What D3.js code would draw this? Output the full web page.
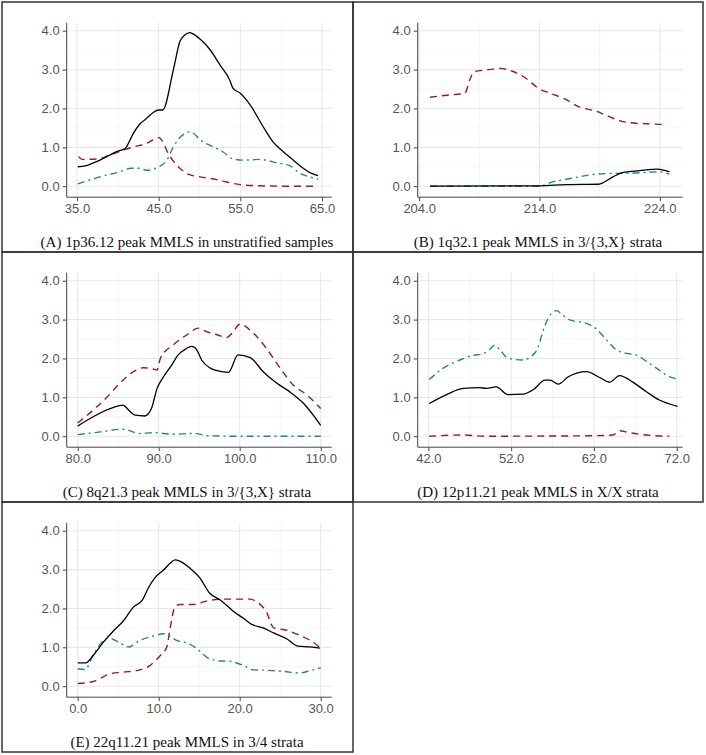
<!DOCTYPE html>
<html><head><meta charset="utf-8">
<script src="https://cdn.jsdelivr.net/npm/d3@7"></script>
<style>body{margin:0;background:#fff}svg{display:block}</style>
</head><body>
<script>
// ---------- data ----------
const yTicks = [0, 1, 2, 3, 4];
const yMinor = [0.5, 1.5, 2.5, 3.5];

const captions = [
  "(A) 1p36.12 peak MMLS in unstratified samples",
  "(B) 1q32.1 peak MMLS in 3/{3,X} strata",
  "(C) 8q21.3 peak MMLS in 3/{3,X} strata",
  "(D) 12p11.21 peak MMLS in X/X strata",
  "(E) 22q11.21 peak MMLS in 3/4 strata"
];

const xTicksA = [35, 45, 55, 65], xMinorA = [40, 50, 60], xDomA = [33.74, 66.19];
const xTicksB = [204, 214, 224], xMinorB = [209, 219], xDomB = [203.88, 225.9];
const xTicksC = [80, 90, 100, 110], xMinorC = [85, 95, 105], xDomC = [78.64, 111.36];
const xTicksD = [42, 52, 62, 72], xMinorD = [47, 57, 67], xDomD = [40.71, 72.72];
const xTicksE = [0, 10, 20, 30], xMinorE = [5, 15, 25], xDomE = [-1.36, 31.36];

// Panel A
const aSolid = [[35.1,0.50],[36.0,0.52],[37.8,0.67],[40.0,0.90],[40.9,0.97],[41.9,1.36],[42.7,1.60],[43.5,1.74],[44.3,1.89],[45.0,1.96],[45.5,1.96],[46.8,2.99],[47.6,3.72],[48.2,3.89],[48.8,3.95],[49.2,3.92],[50.1,3.78],[51.3,3.51],[52.5,3.12],[53.7,2.73],[54.1,2.52],[55.0,2.39],[56.2,2.09],[57.8,1.53],[59.0,1.14],[60.3,0.88],[61.5,0.67],[62.7,0.46],[63.7,0.33],[64.5,0.27]];
const aDashed = [[35.2,0.76],[35.6,0.69],[37.5,0.70],[39.0,0.80],[40.7,0.93],[41.9,1.01],[43.5,1.10],[45.0,1.25],[46.4,0.76],[47.6,0.46],[48.6,0.31],[50.1,0.24],[52.1,0.17],[53.7,0.09],[55.0,0.04],[57.4,0.01],[60.3,0.0],[64.5,0.0]];
const aDotdash = [[35.1,0.06],[37.8,0.24],[39.9,0.35],[41.7,0.46],[42.7,0.46],[43.5,0.41],[45.2,0.52],[46.0,0.67],[46.8,1.01],[47.8,1.29],[48.8,1.40],[49.2,1.37],[50.1,1.19],[51.7,1.01],[52.9,0.88],[54.1,0.70],[55.4,0.67],[57.4,0.69],[59.5,0.60],[61.1,0.52],[62.3,0.33],[63.5,0.24],[64.5,0.18]];

// Panel B
const bSolid = [[204.9,0.0],[214.0,0.01],[216.2,0.04],[218.9,0.05],[220.1,0.24],[220.9,0.35],[222.3,0.40],[223.8,0.44],[224.8,0.37]];
const bDashed = [[204.9,2.29],[206.6,2.35],[207.8,2.39],[208.2,2.73],[208.6,2.95],[209.6,2.99],[210.7,3.03],[211.8,2.95],[212.9,2.77],[213.9,2.52],[214.9,2.39],[216.0,2.26],[217.3,2.04],[218.7,1.93],[219.8,1.79],[220.7,1.68],[222.0,1.62],[223.4,1.60],[224.1,1.59],[224.5,1.63]];
const bDotdash = [[204.9,0.0],[214.0,0.0],[215.1,0.11],[216.8,0.21],[218.7,0.31],[220.4,0.33],[222.0,0.34],[224.0,0.37],[224.8,0.31]];

// Panel C
const cSolid = [[80.0,0.26],[81.9,0.50],[84.0,0.71],[85.6,0.80],[86.3,0.67],[87.1,0.54],[88.3,0.52],[89.1,0.71],[89.8,1.23],[90.6,1.53],[91.6,1.83],[92.4,2.09],[93.3,2.24],[94.1,2.31],[94.7,2.22],[95.3,1.96],[96.3,1.76],[97.8,1.66],[98.6,1.64],[99.8,2.09],[101.3,2.02],[102.9,1.66],[104.6,1.36],[106.2,1.14],[107.9,0.84],[110.0,0.28]];
const cDashed = [[80.0,0.34],[81.9,0.67],[83.6,1.00],[85.2,1.36],[86.9,1.66],[88.1,1.76],[89.3,1.73],[89.8,1.70],[90.2,2.00],[91.8,2.35],[93.5,2.61],[94.9,2.78],[95.9,2.69],[97.2,2.61],[98.4,2.54],[99.2,2.69],[100.0,2.88],[101.7,2.65],[103.3,2.26],[105.0,1.75],[106.6,1.32],[108.3,1.06],[110.0,0.71]];
const cDotdash = [[80.0,0.04],[82.8,0.11],[85.6,0.18],[87.7,0.07],[89.3,0.09],[91.8,0.05],[94.3,0.07],[96.3,0.01],[99.2,0.0],[110.0,0.0]];

// Panel D
const dSolid = [[42.1,0.84],[44.2,1.07],[46.2,1.23],[48.2,1.25],[49.0,1.23],[50.2,1.27],[51.6,1.07],[53.4,1.08],[54.7,1.20],[56.1,1.44],[56.7,1.44],[57.7,1.34],[58.9,1.53],[61.1,1.66],[62.7,1.51],[63.9,1.39],[65.1,1.56],[66.7,1.39],[68.3,1.15],[69.9,0.93],[72.1,0.77]];
const dDashed = [[42.1,0.0],[46.2,0.03],[48.9,0.0],[61.1,0.01],[64.3,0.03],[65.1,0.14],[66.3,0.09],[67.9,0.04],[71.1,0.0]];
const dDotdash = [[42.1,1.46],[43.8,1.75],[45.8,1.96],[47.4,2.08],[48.6,2.12],[49.4,2.23],[50.0,2.34],[50.6,2.23],[51.6,2.01],[53.4,1.96],[55.0,2.18],[56.1,2.86],[56.7,3.12],[57.5,3.23],[58.1,3.14],[59.1,2.99],[61.1,2.90],[62.3,2.76],[63.5,2.48],[64.7,2.22],[65.9,2.13],[67.1,2.09],[68.3,1.93],[69.9,1.70],[71.1,1.53],[72.1,1.47]];

// Panel E
const eSolid = [[0.0,0.60],[1.0,0.60],[1.9,0.79],[3.2,1.14],[4.4,1.42],[5.6,1.67],[6.9,2.04],[8.0,2.22],[8.7,2.52],[9.5,2.78],[10.6,2.99],[11.4,3.16],[12.0,3.25],[12.6,3.22],[13.9,3.03],[15.1,2.78],[16.3,2.39],[17.6,2.22],[19.2,1.93],[20.5,1.74],[21.5,1.59],[22.9,1.50],[24.2,1.37],[25.8,1.22],[27.2,1.03],[28.7,1.01],[29.9,0.98]];
const eDashed = [[0.0,0.07],[1.9,0.12],[4.0,0.32],[5.6,0.36],[7.7,0.42],[8.9,0.53],[10.2,0.79],[11.0,1.01],[11.4,1.48],[12.0,2.04],[12.6,2.10],[14.3,2.10],[15.9,2.19],[18.0,2.24],[19.6,2.24],[21.3,2.24],[22.1,2.17],[23.3,1.91],[24.2,1.50],[25.8,1.44],[27.4,1.31],[28.7,1.18],[30.0,0.98]];
const eDotdash = [[0.0,0.45],[0.9,0.43],[1.9,0.79],[2.8,1.09],[3.8,1.24],[5.0,1.14],[6.3,1.01],[7.7,1.18],[9.3,1.29],[10.6,1.35],[11.4,1.28],[12.2,1.18],[13.5,1.11],[14.7,0.97],[15.9,0.75],[17.2,0.66],[18.8,0.64],[20.5,0.53],[21.7,0.42],[23.3,0.41],[25.4,0.38],[27.4,0.34],[28.9,0.41],[30.0,0.47]];

// ---------- drawing ----------
const W = 706, H = 755;
const svg = d3.select("body").append("svg").attr("width", W).attr("height", H);

const panels = [
  {bx: 2,   by: 2,   xd: xDomA, xt: xTicksA, xm: xMinorA, s: aSolid, d: aDashed, dd: aDotdash, cap: captions[0]},
  {bx: 353, by: 2,   xd: xDomB, xt: xTicksB, xm: xMinorB, s: bSolid, d: bDashed, dd: bDotdash, cap: captions[1]},
  {bx: 2,   by: 252, xd: xDomC, xt: xTicksC, xm: xMinorC, s: cSolid, d: cDashed, dd: cDotdash, cap: captions[2]},
  {bx: 353, by: 252, xd: xDomD, xt: xTicksD, xm: xMinorD, s: dSolid, d: dDashed, dd: dDotdash, cap: captions[3]},
  {bx: 2,   by: 502, xd: xDomE, xt: xTicksE, xm: xMinorE, s: eSolid, d: eDashed, dd: eDotdash, cap: captions[4]}
];

const boxW = [351, 350, 351, 350, 351];
const RED = "#9b1b1b", TEAL = "#23809e";

panels.forEach((p, i) => {
  const g = svg.append("g");
  const L = p.bx + 64.7, R = p.bx + 329.7, T = p.by + 20.7, B = p.by + 195.2;
  const x = d3.scaleLinear().domain(p.xd).range([L, R]);
  const y = d3.scaleLinear().domain([-0.283, 4.206]).range([B, T]);

  // minor grid
  g.selectAll(".ymin").data(yMinor).join("line")
    .attr("x1", L).attr("x2", R).attr("y1", d => y(d)).attr("y2", d => y(d))
    .attr("stroke", "#f3f3f3").attr("stroke-width", 0.8);
  g.selectAll(".xmin").data(p.xm).join("line")
    .attr("y1", T).attr("y2", B).attr("x1", d => x(d)).attr("x2", d => x(d))
    .attr("stroke", "#f3f3f3").attr("stroke-width", 0.8);
  // major grid
  g.selectAll(".ymaj").data(yTicks).join("line")
    .attr("x1", L).attr("x2", R).attr("y1", d => y(d)).attr("y2", d => y(d))
    .attr("stroke", "#e8e8e8").attr("stroke-width", 1.1);
  g.selectAll(".xmaj").data(p.xt).join("line")
    .attr("y1", T).attr("y2", B).attr("x1", d => x(d)).attr("x2", d => x(d))
    .attr("stroke", "#e8e8e8").attr("stroke-width", 1.1);

  // axes
  const ax = g.append("g").attr("transform", `translate(0,${B})`)
    .call(d3.axisBottom(x).tickValues(p.xt).tickFormat(d3.format(".1f")).tickSize(4).tickPadding(3));
  const ay = g.append("g").attr("transform", `translate(${L},0)`)
    .call(d3.axisLeft(y).tickValues(yTicks).tickFormat(d3.format(".1f")).tickSize(4).tickPadding(3));
  [ax, ay].forEach(a => {
    a.select(".domain").attr("stroke", "#444").attr("stroke-width", 1);
    a.selectAll(".tick line").attr("stroke", "#444").attr("stroke-width", 1);
    a.selectAll("text").attr("fill", "#555").style("font-family", "'Liberation Sans', Arial, sans-serif").style("font-size", "13px");
  });
  ax.select(".domain").attr("d", `M${L},0H${R}`);
  ay.select(".domain").attr("d", `M0,${T}V${B}`);

  // lines
  const line = d3.line().x(d => x(d[0])).y(d => y(d[1])).curve(d3.curveMonotoneX);
  g.append("path").attr("d", line(p.d)).attr("fill", "none").attr("stroke", RED)
    .attr("stroke-width", 1.4).attr("stroke-dasharray", "7,5");
  g.append("path").attr("d", line(p.dd)).attr("fill", "none").attr("stroke", TEAL)
    .attr("stroke-width", 1.4).attr("stroke-dasharray", "7,4,2,4");
  g.append("path").attr("d", line(p.s)).attr("fill", "none").attr("stroke", "#000")
    .attr("stroke-width", 1.3);

  // caption
  g.append("text").attr("x", p.bx + 185).attr("y", p.by + 245)
    .attr("text-anchor", "middle")
    .style("font-family", "'Liberation Serif', 'Times New Roman', serif")
    .style("font-size", "15px").attr("fill", "#111")
    .text(p.cap);

  // border
  g.append("rect").attr("x", p.bx).attr("y", p.by).attr("width", boxW[i]).attr("height", 250)
    .attr("fill", "none").attr("stroke", "#333").attr("stroke-width", 1.5);
});
</script>
</body></html>
